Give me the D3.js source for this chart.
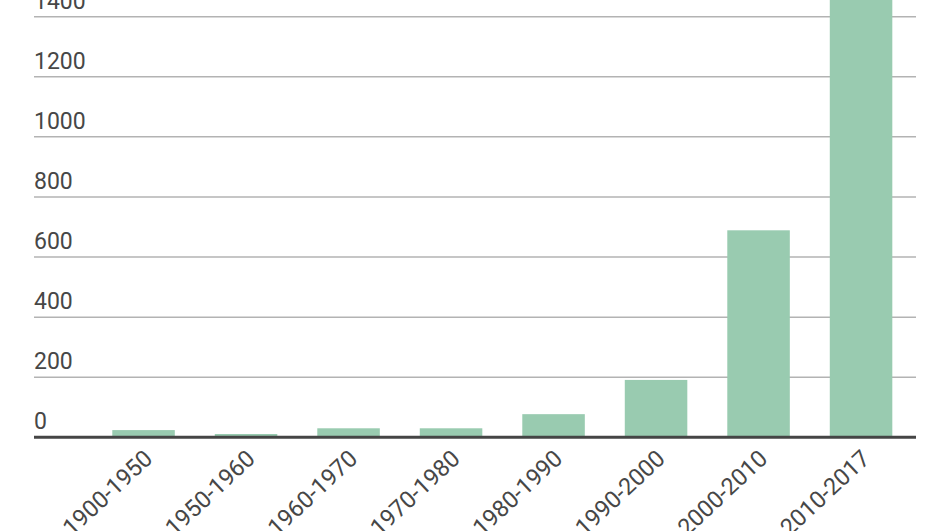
<!DOCTYPE html>
<html>
<head>
<meta charset="utf-8">
<script src="https://cdnjs.cloudflare.com/ajax/libs/d3/7.8.5/d3.min.js"></script>
<style>
html,body{margin:0;padding:0;background:#fff;}
svg{display:block;}
text{font-family:Roboto,"Noto Sans",sans-serif;fill:#474747;}
</style>
</head>
<body>
<svg id="c" width="944" height="531"></svg>
<script>
const categories = ["1900-1950","1950-1960","1960-1970","1970-1980","1980-1990","1990-2000","2000-2010","2010-2017"];
const values = [24, 11, 30, 30, 77, 191, 689, 1530];
const yTicks = [0, 200, 400, 600, 800, 1000, 1200, 1400];

const svg = d3.select("#c");
const gridLeft = 34, gridRight = 916;
const y = d3.scaleLinear().domain([0, 1400]).range([437.3, 16.7]);
const x = d3.scaleBand().domain(categories).range([92.3, 912.3]).paddingInner(0.39).paddingOuter(0.195);

// gridlines
const g = svg.append("g");
g.selectAll("line.grid").data(yTicks.filter(d => d > 0)).enter().append("line")
  .attr("x1", gridLeft).attr("x2", gridRight)
  .attr("y1", d => y(d)).attr("y2", d => y(d))
  .attr("stroke", "#b3b3b3").attr("stroke-width", 1.5);

// y labels
g.selectAll("text.yl").data(yTicks).enter().append("text")
  .attr("x", gridLeft).attr("y", d => y(d) - 8)
  .attr("font-size", 23).text(d => d);

// bars
svg.append("g").selectAll("rect").data(values).enter().append("rect")
  .attr("x", (d, i) => x(categories[i]))
  .attr("width", x.bandwidth())
  .attr("y", d => y(d))
  .attr("height", d => y(0) - y(d))
  .attr("fill", "#99cbb0");

// baseline
svg.append("line").attr("x1", gridLeft).attr("x2", gridRight)
  .attr("y1", y(0)).attr("y2", y(0))
  .attr("stroke", "#454545").attr("stroke-width", 3);

// x labels
svg.append("g").selectAll("text").data(categories).enter().append("text")
  .attr("transform", d => `translate(${x(d) + x.bandwidth() / 2 - 1},${y(0) + 11}) rotate(-43)`)
  .attr("text-anchor", "end").attr("dy", "0.71em")
  .attr("font-size", 23.5).text(d => d);
</script>
</body>
</html>
